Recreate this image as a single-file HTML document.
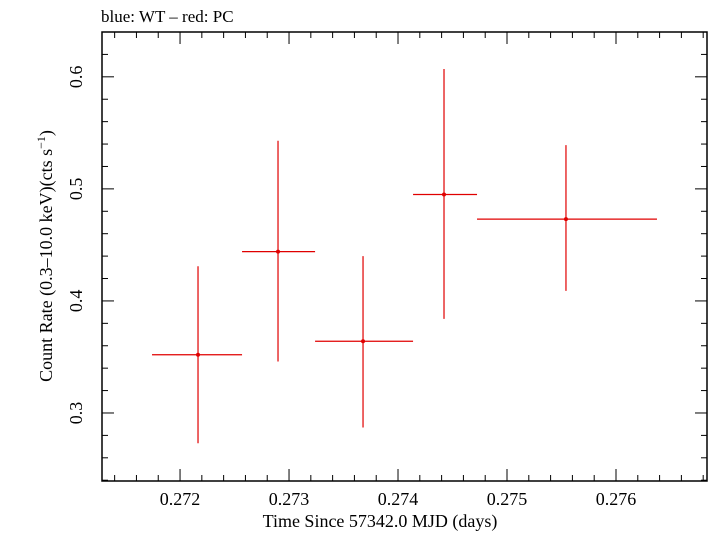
<!DOCTYPE html>
<html><head><meta charset="utf-8"><style>
body{margin:0;background:#fff}
svg text{font-family:"Liberation Serif",serif;fill:#000}
</style></head><body>
<svg id="c" width="709" height="532" xmlns="http://www.w3.org/2000/svg">
<rect width="709" height="532" fill="#fff"/>
<text x="101" y="22" font-size="17">blue: WT – red: PC</text>
<text x="380" y="527" font-size="18" text-anchor="middle">Time Since 57342.0 MJD (days)</text>
<text transform="translate(52,256) rotate(-90)" font-size="18" text-anchor="middle">Count Rate (0.3–10.0 keV)(cts s<tspan font-size="12" dy="-7">−1</tspan><tspan dy="7">)</tspan></text>
<g id="axes"></g><g id="marks"></g>
</svg>
<script>
const xCenters=[0.272165,0.272899,0.273679,0.274422,0.275541];
const xLow=[0.271743,0.272569,0.273239,0.274138,0.274725];
const xHigh=[0.272569,0.273239,0.274138,0.274725,0.276376];
const rates=[0.352,0.444,0.364,0.495,0.473];
const rateLow=[0.273,0.346,0.287,0.384,0.409];
const rateHigh=[0.431,0.543,0.440,0.607,0.539];
const xTicks=[0.272,0.273,0.274,0.275,0.276];
const yTicks=[0.3,0.4,0.5,0.6];
const L=102,R=707,T=32,B=481,x0=0.271284,x1=0.276835,y0=0.2393,y1=0.640;
const sx=v=>L+(v-x0)/(x1-x0)*(R-L);
const sy=v=>B-(v-y0)/(y1-y0)*(B-T);
const NS="http://www.w3.org/2000/svg";
function mk(tag,attrs,parent){const e=document.createElementNS(NS,tag);for(const k in attrs)e.setAttribute(k,attrs[k]);parent.appendChild(e);return e;}
const ax=document.getElementById('axes'),mg=document.getElementById('marks');
const frame=mk('rect',{x:L,y:T,width:R-L,height:B-T,fill:'none',stroke:'#000','stroke-width':1.5},ax);


for(let i=0;;i++){const v=0.2714+i*0.0002;if(v>x1)break;if(v<x0)continue;
 const major=xTicks.some(t=>Math.abs(t-v)<1e-7);const len=major?12:6;const px=sx(v);
 const t1=mk('line',{x1:px,x2:px,y1:B,y2:B-len,stroke:'#000'},ax);
 
 
 const t2=mk('line',{x1:px,x2:px,y1:T,y2:T+len,stroke:'#000'},ax);
 
 }
xTicks.forEach(v=>{const t=mk('text',{x:sx(v),y:B+24,'font-size':18,'text-anchor':'middle'},ax);t.textContent=v.toFixed(3);
 
 });
for(let i=0;;i++){const v=0.24+i*0.02;if(v>y1)break;if(v<y0)continue;
 const major=yTicks.some(t=>Math.abs(t-v)<1e-7);const len=major?12:6;const py=sy(v);
 const t1=mk('line',{x1:L,x2:L+len,y1:py,y2:py,stroke:'#000'},ax);
 
 
 const t2=mk('line',{x1:R,x2:R-len,y1:py,y2:py,stroke:'#000'},ax);
 
 }
yTicks.forEach(v=>{const t=mk('text',{transform:`translate(${L-20},${sy(v)}) rotate(-90)`,'font-size':18,'text-anchor':'middle'},ax);t.textContent=v.toFixed(1);
 
 });
rates.forEach((r,i)=>{
 const g=mk('g',{},mg);
 
 
 mk('line',{x1:sx(xLow[i]),x2:sx(xHigh[i]),y1:sy(r),y2:sy(r),stroke:'#e00000','stroke-width':1.2},g);
 mk('line',{x1:sx(xCenters[i]),x2:sx(xCenters[i]),y1:sy(rateLow[i]),y2:sy(rateHigh[i]),stroke:'#e00000','stroke-width':1.2},g);
 mk('circle',{cx:sx(xCenters[i]),cy:sy(r),r:2,fill:'#e00000'},g);
});
</script>
</body></html>
